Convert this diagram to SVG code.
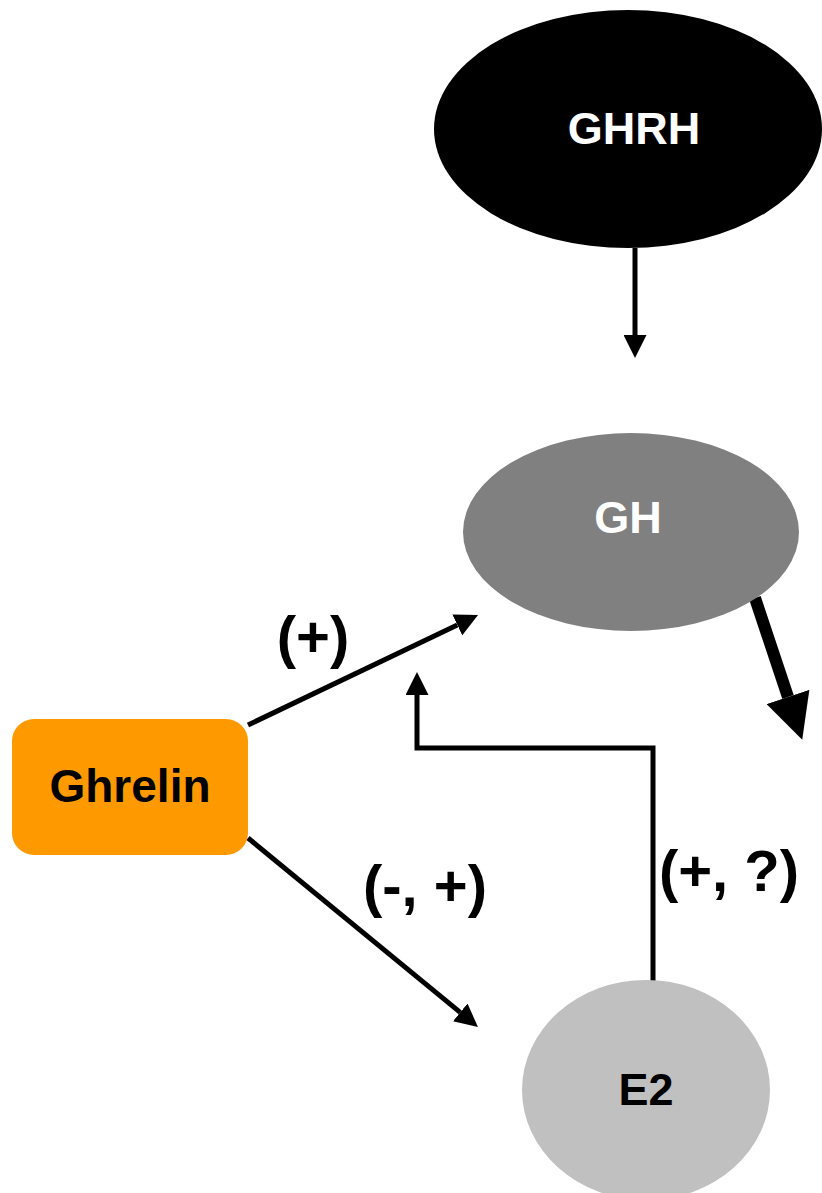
<svg xmlns="http://www.w3.org/2000/svg" width="822" height="1193" viewBox="0 0 822 1193">
<style>
.lbl{font-family:"Liberation Sans",Arial,sans-serif;font-weight:bold;text-anchor:middle}
.node{font-size:45px}
.edge{font-size:58px;fill:#000}
.ln{stroke:#000;fill:none}
</style>
<defs>
<marker id="ah" viewBox="0 0 10 10" refX="0" refY="5" markerWidth="23" markerHeight="23" orient="auto" markerUnits="userSpaceOnUse">
<path d="M0,0 L10,5 L0,10 z" fill="#000"/>
</marker>
<marker id="ahb" viewBox="0 0 10 10" refX="0" refY="5" markerWidth="45" markerHeight="45" orient="auto" markerUnits="userSpaceOnUse">
<path d="M0,0 L10,5 L0,10 z" fill="#000"/>
</marker>
</defs>
<rect width="822" height="1193" fill="#fff"/>
<g id="connectors">
<line class="ln" x1="635" y1="248" x2="635" y2="335" stroke-width="5" marker-end="url(#ah)"/>
<line class="ln" x1="755" y1="598" x2="788" y2="697" stroke-width="12" marker-end="url(#ahb)"/>
<line class="ln" x1="248" y1="725" x2="457.3" y2="624.9" stroke-width="5" marker-end="url(#ah)"/>
<line class="ln" x1="248" y1="838" x2="460.2" y2="1012.4" stroke-width="5" marker-end="url(#ah)"/>
<polyline class="ln" points="653,985 653,748 417,748 417,695" stroke-width="5" marker-end="url(#ah)"/>
<text class="lbl edge" x="313" y="657">(+)</text>
<text class="lbl edge" x="425" y="906">(-, +)</text>
<text class="lbl edge" x="729" y="891">(+, ?)</text>
</g>
<g id="GHRH">
<ellipse cx="628" cy="129" rx="194" ry="119" fill="#000"/>
<text class="lbl node" x="634" y="144" fill="#fff">GHRH</text>
</g>
<g id="GH">
<ellipse cx="631" cy="532" rx="168" ry="99" fill="#808080"/>
<text class="lbl node" x="628" y="533" fill="#fff">GH</text>
</g>
<g id="Ghrelin">
<rect x="12" y="719" width="236" height="136" rx="22" fill="#FF9900"/>
<text class="lbl node" x="130" y="802" fill="#000" style="font-size:46px">Ghrelin</text>
</g>
<g id="E2">
<ellipse cx="646" cy="1090" rx="124" ry="110" fill="#C0C0C0"/>
<text class="lbl node" x="646" y="1105" fill="#000">E2</text>
</g>
</svg>
